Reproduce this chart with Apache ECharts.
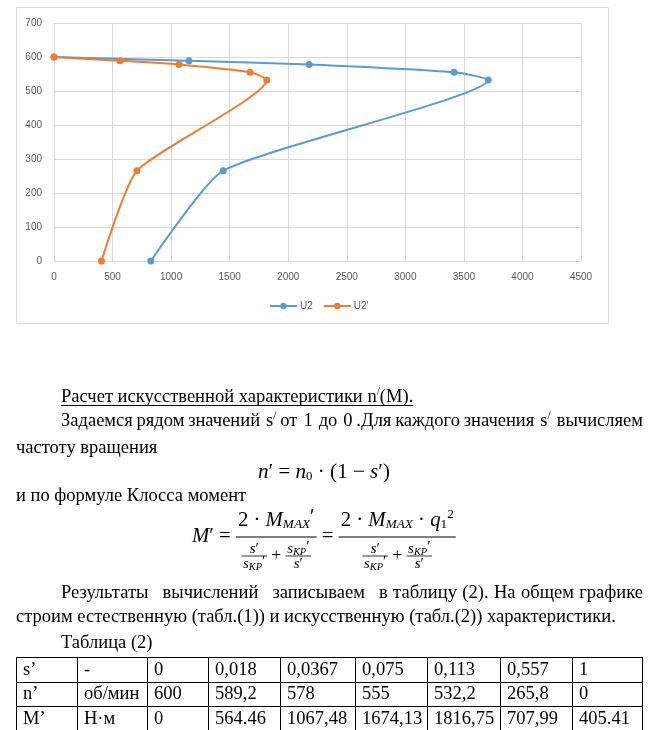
<!DOCTYPE html>
<html><head><meta charset="utf-8">
<script src="https://cdn.jsdelivr.net/npm/echarts@6/dist/echarts.min.js"></script>
<style>
html,body{margin:0;padding:0;background:#fff;width:667px;height:730px;overflow:hidden;}
#page{position:absolute;left:0;top:0;width:667px;height:730px;}
</style></head>
<body>
<div id="page"></div>
<script>
// ---------- data ----------
// Natural characteristic U2
const u2M = [0, 1152, 2178, 3417, 3708, 1445, 827];
const u2n = [600, 589.2, 578, 555, 532.2, 265.8, 0];
// Artificial characteristic U2' (table 2)
const u2pM = [0, 564.46, 1067.48, 1674.13, 1816.75, 707.99, 405.41];
const u2pn = [600, 589.2, 578, 555, 532.2, 265.8, 0];
const seriesNames = ["U2", "U2'"];
// Table (2) contents
const rowS = ['s’', '-', '0', '0,018', '0,0367', '0,075', '0,113', '0,557', '1'];
const rowN = ['n’', 'об/мин', '600', '589,2', '578', '555', '532,2', '265,8', '0'];
const rowMt = ['M’', 'Н·м', '0', '564.46', '1067,48', '1674,13', '1816,75', '707,99', '405.41'];

// ---------- text layout helpers (drawn as ECharts graphic text) ----------
const SERIF = "'Liberation Serif','Times New Roman',serif";
const mctx = document.createElement('canvas').getContext('2d');
const fontStr = (size, it) => (it ? 'italic ' : '') + size.toFixed(2) + 'px ' + SERIF;
const measure = (t, size, it) => { mctx.font = fontStr(size, it); return mctx.measureText(t).width; };
const G = [];
function txt(x, y, t, size, it) {
  G.push({type: 'text', x: x, y: y, silent: true, z: 10,
    style: {text: t, font: fontStr(size, it), fill: '#000', textAlign: 'left', textVerticalAlign: 'middle'}});
}
function ln(x1, y1, x2, y2, w) {
  G.push({type: 'line', silent: true, z: 10, shape: {x1: x1, y1: y1, x2: x2, y2: y2}, style: {stroke: '#000', lineWidth: w || 1}});
}
const segsW = segs => segs.reduce((a, s) => a + measure(s[0], s[1], s[2]), 0);
function run(x, y, segs) {
  let cx = x;
  segs.forEach(s => { txt(cx, y + (s[3] || 0), s[0], s[1], s[2]); cx += measure(s[0], s[1], s[2]); });
  return cx;
}
function justify(x, y, width, words, weights) {
  const ws = words.map(segsW);
  const tot = ws.reduce((a, b) => a + b, 0);
  const wsum = weights.reduce((a, b) => a + b, 0);
  const unit = (width - tot) / wsum;
  let cx = x;
  words.forEach((w, i) => { run(cx, y, w); cx += ws[i] + (i < weights.length ? weights[i] * unit : 0); });
}

// body font size fitted to the reference line width
const refLine = 'строим естественную (табл.(1)) и искусственную (табл.(2)) характеристики.';
const FS = 17 * 600 / measure(refLine, 17, false);
const T = t => [[t, FS, false]];
const sSup = [['s', FS, false], ['/', FS * 0.62, false, -5]];

// line 1 (underlined)
const end1 = run(61, 397, [['Расчет искусственной характеристики n', FS, false], ['/', FS * 0.62, false, -5], ['(M).', FS, false]]);
ln(61, 405.5, end1, 405.5, 1);
// line 2 (justified)
justify(61, 421, 582,
  [T('Задаемся'), T('рядом'), T('значений'), sSup, T('от'), T('1'), T('до'), T('0'), T('.Для'), T('каждого'), T('значения'), sSup, T('вычисляем')],
  [1, 1, 1.6, 1, 1.6, 1.6, 1.6, 1, 1, 1, 1.6, 1.6]);
run(16, 448, T('частоту вращения'));

// n' formula
function nFormula(x, k, draw) {
  const B = 18 * k, s = 11 * k;
  const segs = [['n', B, true], ['′ = ', B, false], ['n', B, true], ['0', s, false, 5], [' · (1 − ', B, false], ['s', B, true], ['′)', B, false]];
  if (draw) run(x, 472, segs);
  return segsW(segs);
}
const kN = 132 / nFormula(0, 1, false);
nFormula(258, kN, true);
run(16, 496, T('и по формуле Клосса момент'));

// M' formula
function fracSmall(x, yBar, num, den, draw) {
  const w = Math.max(segsW(num), segsW(den)) + 3;
  if (draw) {
    run(x + (w - segsW(num)) / 2, yBar - 7, num);
    run(x + (w - segsW(den)) / 2, yBar + 8, den);
    ln(x, yBar, x + w, yBar, 0.8);
  }
  return w;
}
function mFormula(x0, k, draw) {
  const B = 18 * k, s = 11.5 * k, sm = 13 * k, ss = 9 * k;
  const yA = 537;
  let x = x0;
  const head = [['M', B, true], ['′ = ', B, false]];
  if (draw) run(x, yA, head);
  x += segsW(head);
  const sKP = [['s', sm, true], ['KP', ss, true, 3], ['′', sm, false, -2]];
  const sP = [['s', sm, true], ['′', sm, false]];
  const denom = (xs, drw) => {
    let cx = xs;
    cx += fracSmall(cx, 556, sP, sKP, drw);
    const plus = [[' + ', B * 0.85, false]];
    if (drw) run(cx, 555, plus);
    cx += segsW(plus);
    cx += fracSmall(cx, 556, sKP, sP, drw);
    return cx - xs;
  };
  const fracBig = (xs, num) => {
    const wN = segsW(num), wD = denom(0, false);
    const bw = Math.max(wN, wD) + 4;
    if (draw) {
      run(xs + (bw - wN) / 2, 521, num);
      denom(xs + (bw - wD) / 2, true);
      ln(xs, yA, xs + bw, yA, 1);
    }
    return bw;
  };
  x += fracBig(x, [['2 · ', B, false], ['M', B, true], ['MAX', s, true, 4], ['′', B, false, -3]]);
  const eq = [[' = ', B, false]];
  if (draw) run(x, yA, eq);
  x += segsW(eq);
  x += fracBig(x, [['2 · ', B, false], ['M', B, true], ['MAX', s, true, 4], [' · ', B, false], ['q', B, true], ['1', s, false, 4], ['2', s, false, -6]]);
  return x - x0;
}
const kM = 265 / mFormula(0, 1, false);
mFormula(192, kM, true);

// paragraph after formula
justify(61, 593, 582,
  [T('Результаты'), T('вычислений'), T('записываем'), T('в'), T('таблицу'), T('(2).'), T('На'), T('общем'), T('графике')],
  [2.6, 2.6, 2.6, 1, 1, 1, 1, 1]);
run(16, 617, T(refLine));
run(61, 643, T('Таблица (2)'));

// table (2)
const colX = [16, 77, 147, 208, 280, 355, 427, 500, 572, 642];
const rowY = [657, 681.5, 706, 730.5];
rowY.forEach(y => ln(colX[0], Math.round(y) + 0.5, colX[colX.length - 1], Math.round(y) + 0.5, 1));
colX.forEach(x => ln(x + 0.5, rowY[0], x + 0.5, 731, 1));
[rowS, rowN, rowMt].forEach((row, r) => {
  row.forEach((cell, c) => txt(colX[c] + 7, (rowY[r] + rowY[r + 1]) / 2 + 0.5, cell, FS, false));
});

// chart frame
G.push({type: 'rect', silent: true, z: 0, shape: {x: 16.5, y: 7.5, width: 592, height: 316},
  style: {fill: 'none', stroke: '#d9d9d9', lineWidth: 1}});

// ---------- chart ----------
const pairs = (xs, ys) => xs.map((x, i) => [x, ys[i]]);
const chart = echarts.init(document.getElementById('page'), null, {renderer: 'canvas', width: 667, height: 730});
const SANS = "'Liberation Sans', Arial, sans-serif";
const axisLabel = {color: '#595959', fontSize: 10, fontFamily: SANS, formatter: v => String(v)};
chart.setOption({
  animation: false,
  graphic: {elements: G},
  grid: {left: 54, right: 86, top: 23, bottom: 469},
  legend: {
    left: 264, top: 296, itemWidth: 27, itemHeight: 8, itemGap: 10,
    textStyle: {color: '#595959', fontSize: 10, fontFamily: SANS, padding: [0, 0, 0, -2]},
    data: seriesNames
  },
  xAxis: {
    type: 'value', min: 0, max: 4500, interval: 500,
    axisLine: {show: false}, axisTick: {show: false},
    splitLine: {lineStyle: {color: '#d9d9d9'}},
    axisLabel: Object.assign({margin: 11}, axisLabel)
  },
  yAxis: {
    type: 'value', min: 0, max: 700, interval: 100,
    axisLine: {show: false}, axisTick: {show: false},
    splitLine: {lineStyle: {color: '#d9d9d9'}},
    axisLabel: Object.assign({margin: 12}, axisLabel)
  },
  series: [
    {name: seriesNames[0], type: 'line', data: pairs(u2M, u2n), smooth: 0.18,
     symbol: 'circle', symbolSize: 7, color: '#5B9BD5', lineStyle: {width: 2}},
    {name: seriesNames[1], type: 'line', data: pairs(u2pM, u2pn), smooth: 0.18,
     symbol: 'circle', symbolSize: 7, color: '#ED7D31', lineStyle: {width: 2}}
  ]
});
</script>
</body></html>
